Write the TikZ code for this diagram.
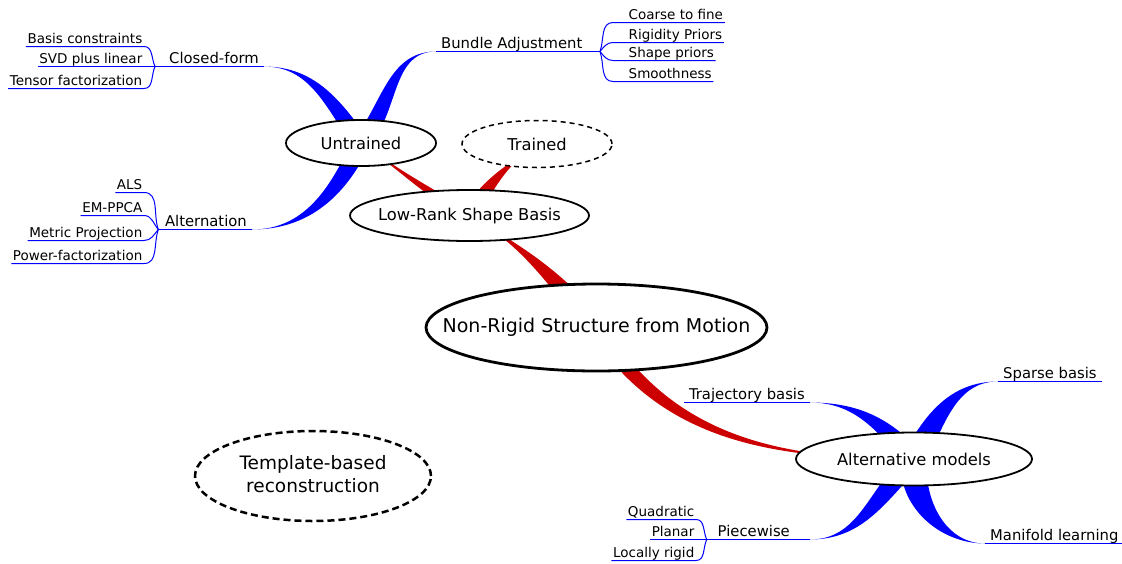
\documentclass[tikz,border=0pt]{standalone}
\usepackage{fontspec}
\setmainfont{DejaVu Sans}
\usetikzlibrary{shapes.geometric,calc}

\pgfdeclarelayer{background}
\pgfsetlayers{background,main}

\definecolor{ribred}{RGB}{204,0,0}
\definecolor{ribblue}{RGB}{0,0,255}

% tapered band: colour, from, to, out, in, half width
\newcommand{\ribbon}[6]{%
	\fill[#1] ($(#2)+(-#6,0)$) to[out=#4,in=#5] (#3) to[out=#5,in=#4] ($(#2)+(#6,0)$) -- cycle;}
% label that does not widen its bubble
\newcommand{\nowide}[1]{\makebox[0pt]{#1}}

\begin{document}
\begin{tikzpicture}[x=1pt,y=1pt,
	bubble/.style={ellipse, draw, fill=white, line width=1.8pt, inner sep=0pt, font=\fontsize{16.3}{19}\selectfont},
	root/.style={bubble, line width=2.8pt, font=\fontsize{19}{22}\selectfont},
	mid/.style={inner xsep=5pt, inner ysep=3pt, text depth=0pt, font=\fontsize{14.8}{17}\selectfont},
	leaf/.style={inner xsep=1.5pt, inner ysep=3pt, text depth=0pt, font=\fontsize{13.5}{16}\selectfont},
	twig/.style={draw=ribblue, line width=1pt}]
	\useasboundingbox (0,0) rectangle (1122,-563);

	% main bubbles
	\node[root, minimum width=341, minimum height=87] (nrsfm) at (596.5,-327.5) {\nowide{Non-Rigid Structure from Motion}};
	\node[bubble, minimum width=239, minimum height=51] (lrsb) at (469.5,-215.5) {\nowide{Low-Rank Shape Basis}};
	\node[bubble, minimum width=150, minimum height=46] (untr) at (361,-143) {\nowide{Untrained}};
	\node[bubble, dash pattern=on 5pt off 4pt, line width=1.5pt, minimum width=150, minimum height=47] (trnd) at (537,-144) {\nowide{Trained}};
	\node[bubble, minimum width=236, minimum height=53] (alt) at (914,-459) {\nowide{Alternative models}};
	\node[bubble, dash pattern=on 7pt off 4pt, line width=2.5pt, minimum width=236, minimum height=90,
		font=\fontsize{18.5}{23}\selectfont] (tmpl) at (313,-476)
		{\nowide{\begin{tabular}{@{}c@{}}Template-based\\reconstruction\end{tabular}}};

	% untrained branches
	\node[mid, anchor=south east] (cform) at (264,-66.5) {Closed-form};
	\coordinate (jcf) at (155,-66.5);
	\node[leaf, anchor=south east] (bcons) at (144,-46.5) {Basis constraints};
	\node[leaf, anchor=south east] (svd) at (144,-66.5) {SVD plus linear};
	\node[leaf, anchor=south east] (tensor) at (144,-88.5) {Tensor factorization};

	\node[mid, anchor=south east] (altn) at (252,-229.5) {Alternation};
	\coordinate (jal) at (158.3,-229.5);
	\node[leaf, anchor=south east] (als) at (144,-192.5) {ALS};
	\node[leaf, anchor=south east] (emp) at (144,-215.5) {EM-PPCA};
	\node[leaf, anchor=south east] (metric) at (144,-240.5) {Metric Projection};
	\node[leaf, anchor=south east] (power) at (144,-263.5) {Power-factorization};

	\node[mid, anchor=south west] (bund) at (436,-51.5) {Bundle Adjustment};
	\coordinate (jba) at (600,-51.5);
	\node[leaf, anchor=south west] (coarse) at (627,-22.5) {Coarse to fine};
	\node[leaf, anchor=south west] (rigid) at (627,-42.5) {Rigidity Priors};
	\node[leaf, anchor=south west] (shape) at (627,-60.5) {Shape priors};
	\node[leaf, anchor=south west] (smooth) at (627,-81.5) {Smoothness};

	% alternative models branches
	\node[mid, anchor=south east] (traj) at (810,-402.5) {Trajectory basis};
	\node[mid, anchor=south west] (sparse) at (998,-381.5) {Sparse basis};
	\node[mid, anchor=south west] (mani) at (985,-543.5) {Manifold learning};
	\node[mid, anchor=south east, inner xsep=20pt] (piece) at (810,-539.5) {Piecewise};
	\coordinate (jpw) at (706.7,-539.5);
	\node[leaf, anchor=south east] (quad) at (696,-519.5) {Quadratic};
	\node[leaf, anchor=south east] (planar) at (696,-539.5) {Planar};
	\node[leaf, anchor=south east] (local) at (696,-560.5) {Locally rigid};

	% thin lines
	\draw[twig] (bcons.south west) -- (bcons.south east) to[out=0,in=115] (jcf);
	\draw[twig] (svd.south west) -- (jcf) -- (cform.south east);
	\draw[twig] (tensor.south west) -- (tensor.south east) to[out=0,in=245] (jcf);

	\draw[twig] (als.south west) -- (als.south east) to[out=0,in=110] (jal);
	\draw[twig] (emp.south west) -- (emp.south east) to[out=0,in=130] (jal);
	\draw[twig] (metric.south west) -- (metric.south east) to[out=0,in=230] (jal);
	\draw[twig] (power.south west) -- (power.south east) to[out=0,in=250] (jal);
	\draw[twig] (jal) -- (altn.south east);

	\draw[twig] (bund.south west) -- (jba);
	\draw[twig] (jba) to[out=70,in=180] ($(coarse.south west)+(-14,0)$) -- (coarse.south east);
	\draw[twig] (jba) to[out=50,in=180] ($(rigid.south west)+(-14,0)$) -- (rigid.south east);
	\draw[twig] (jba) to[out=-50,in=180] ($(shape.south west)+(-14,0)$) -- (shape.south east);
	\draw[twig] (jba) to[out=-70,in=180] ($(smooth.south west)+(-14,0)$) -- (smooth.south east);

	\draw[twig] (traj.south west) -- (traj.south east);
	\draw[twig] (sparse.south west) -- (sparse.south east);
	\draw[twig] (mani.south west) -- (mani.south east);
	\draw[twig] (quad.south west) -- (quad.south east) to[out=0,in=115] (jpw);
	\draw[twig] (planar.south west) -- (jpw) -- (piece.south east);
	\draw[twig] (local.south west) -- (local.south east) to[out=0,in=245] (jpw);

	% bands under the bubbles
	\begin{pgfonlayer}{background}
		\ribbon{ribred}{nrsfm.center}{lrsb.center}{130}{-30}{13}
		\ribbon{ribred}{nrsfm.center}{alt.center}{-58}{180}{9.5}
		\ribbon{ribred}{lrsb.center}{untr.center}{150}{-35}{9}
		\ribbon{ribred}{lrsb.center}{trnd.center}{60}{215}{9}

		\ribbon{ribblue}{untr.center}{cform.south east}{125}{0}{10}
		\ribbon{ribblue}{untr.center}{bund.south west}{50}{180}{10}
		\ribbon{ribblue}{untr.center}{altn.south east}{245}{0}{10}

		\ribbon{ribblue}{alt.center}{traj.south east}{130}{0}{13}
		\ribbon{ribblue}{alt.center}{sparse.south west}{63}{180}{13}
		\ribbon{ribblue}{alt.center}{piece.south east}{225}{0}{13}
		\ribbon{ribblue}{alt.center}{mani.south west}{-95}{180}{13}
	\end{pgfonlayer}
\end{tikzpicture}
\end{document}
